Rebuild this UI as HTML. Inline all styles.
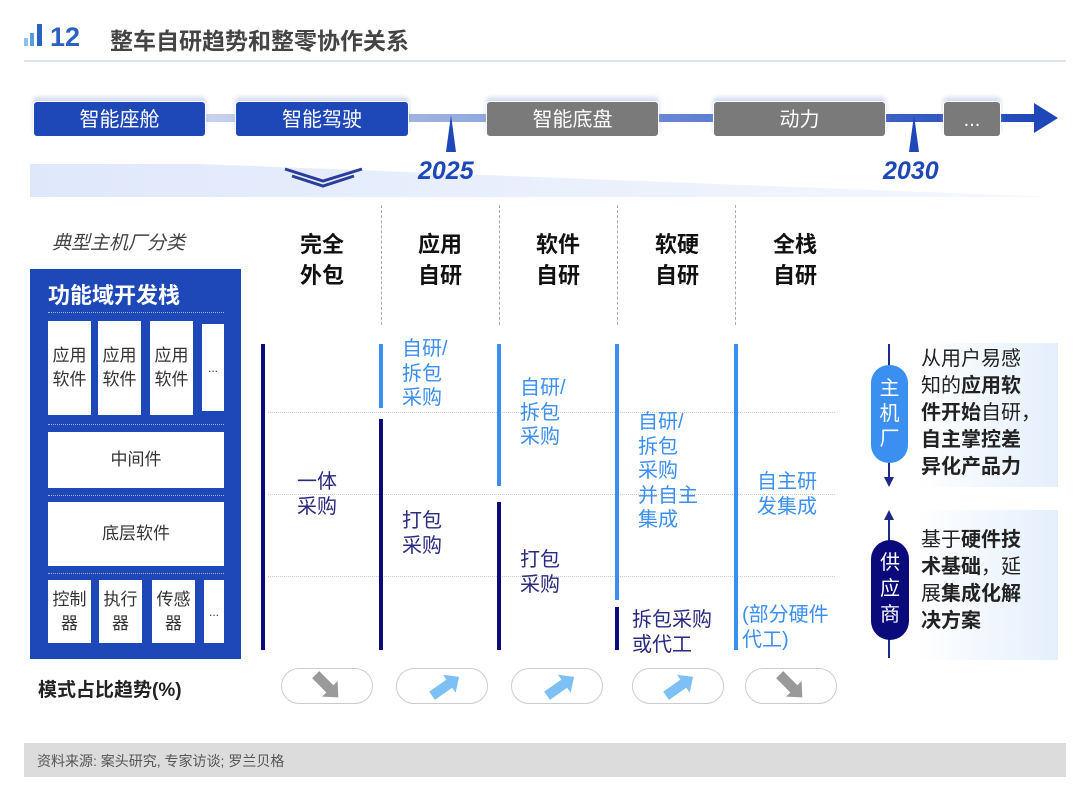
<!DOCTYPE html>
<html><head><meta charset="utf-8">
<style>
*{margin:0;padding:0;box-sizing:border-box}
body{width:1080px;height:791px;background:#fff;position:relative;overflow:hidden;font-family:"Liberation Sans","Noto Sans CJK SC",sans-serif}
.a{position:absolute}
.tb{position:absolute;height:36px;top:101px;border-radius:4px;color:#fff;font-size:20px;text-align:center;line-height:36px;border:1px solid #fff;box-shadow:0 -4px 4px rgba(150,170,220,.4)}
.blue{background:#1e48b8}
.gray{background:#7a7a7a}
.hd{position:absolute;top:229px;width:80px;text-align:center;font-size:22px;font-weight:bold;line-height:31px;color:#111}
.dsep{position:absolute;top:205px;height:120px;border-left:1px dashed #aaa}
.vb{position:absolute;width:4px}
.dk{background:#0a0a7a}
.lb{background:#3b8ff0}
.t{position:absolute;font-size:20px;line-height:24.5px}
.tl{color:#3b8ff0}
.td{color:#2a2a80}
.hl{position:absolute;left:268px;width:567px;border-top:1px dotted #ccc}
.wb{position:absolute;background:#fff;color:#333;font-size:17px;text-align:center;display:flex;align-items:center;justify-content:center;line-height:24px}
.pill{position:absolute;top:668px;width:92px;height:36px;border:1.5px solid #ccc;border-radius:18px;background:#fff}
.rt{position:absolute;left:918px;width:140px;font-size:20px;line-height:27px;color:#222;padding-left:3px;background:linear-gradient(90deg,#fff,#e4effc)}
.rt b{font-weight:bold}
</style></head><body>
<!-- header -->
<div class="a" style="left:24px;top:38px;width:4px;height:8px;background:#8cc0f0"></div>
<div class="a" style="left:30px;top:33px;width:4px;height:13px;background:#5a9be0"></div>
<div class="a" style="left:37px;top:24px;width:5px;height:22px;background:#2a62c0"></div>
<div class="a" style="left:50px;top:22px;font-size:27px;font-weight:bold;color:#2a62c0">12</div>
<div class="a" style="left:110px;top:22px;font-size:23px;font-weight:bold;color:#444">整车自研趋势和整零协作关系</div>
<div class="a" style="left:24px;top:60px;width:1042px;height:2px;background:#dde5f3"></div>

<!-- timeline -->
<div class="a" style="left:200px;top:114px;width:300px;height:8px;background:linear-gradient(90deg,#c8d3ee,#8fa6dc)"></div>
<div class="a" style="left:650px;top:114px;width:390px;height:8px;background:linear-gradient(90deg,#6b88d4,#1e48b8)"></div>
<svg class="a" style="left:0;top:95px" width="1080" height="70">
<polygon points="1034,8 1058,23 1034,38" fill="#1e48b8"/>
<polygon points="446,57 451,20 456,57" fill="#1e48b8"/>
<polygon points="909,57 914,20 919,57" fill="#1e48b8"/>
</svg>
<div class="tb blue" style="left:33px;width:173px">智能座舱</div>
<div class="tb blue" style="left:235px;width:174px">智能驾驶</div>
<div class="tb gray" style="left:486px;width:173px">智能底盘</div>
<div class="tb gray" style="left:713px;width:173px">动力</div>
<div class="tb gray" style="left:943px;width:58px">...</div>
<svg class="a" style="left:0;top:160px" width="1080" height="40">
<defs><linearGradient id="g" x1="0" x2="1"><stop offset="0" stop-color="#dfe8fb"/><stop offset="1" stop-color="#f4f7fd"/></linearGradient></defs>
<polygon points="30,4 200,4 1055,37 30,37" fill="url(#g)"/>
<polyline points="285,9 323,21 362,9" fill="none" stroke="#2a3d9a" stroke-width="3"/>
<polyline points="292,16 323,26 354,16" fill="none" stroke="#2a3d9a" stroke-width="3"/>
</svg>
<div class="a" style="left:418px;top:157px;font-size:25px;font-weight:bold;font-style:italic;color:#1e48b8">2025</div>
<div class="a" style="left:883px;top:157px;font-size:25px;font-weight:bold;font-style:italic;color:#1e48b8">2030</div>

<!-- headers -->
<div class="a" style="left:52px;top:228px;font-size:19px;font-style:italic;color:#444">典型主机厂分类</div>
<div class="hd" style="left:282px">完全<br>外包</div>
<div class="hd" style="left:400px">应用<br>自研</div>
<div class="hd" style="left:518px">软件<br>自研</div>
<div class="hd" style="left:637px">软硬<br>自研</div>
<div class="hd" style="left:755px">全栈<br>自研</div>
<div class="dsep" style="left:381px"></div>
<div class="dsep" style="left:499px"></div>
<div class="dsep" style="left:617px"></div>
<div class="dsep" style="left:735px"></div>

<!-- left panel -->
<div class="a" style="left:30px;top:269px;width:211px;height:390px;background:#1e48b8"></div>
<div class="a" style="left:48px;top:278px;font-size:22px;font-weight:bold;color:#fff">功能域开发栈</div>
<div class="a" style="left:48px;top:312px;width:176px;border-top:1px dotted #9fb3e6"></div>
<div class="a" style="left:48px;top:424px;width:176px;border-top:1px dotted #9fb3e6"></div>
<div class="a" style="left:48px;top:495px;width:176px;border-top:1px dotted #9fb3e6"></div>
<div class="a" style="left:48px;top:573px;width:176px;border-top:1px dotted #9fb3e6"></div>
<div class="wb" style="left:48px;top:321px;width:43px;height:94px">应用<br>软件</div>
<div class="wb" style="left:98px;top:321px;width:43px;height:94px">应用<br>软件</div>
<div class="wb" style="left:150px;top:321px;width:43px;height:94px">应用<br>软件</div>
<div class="wb" style="left:202px;top:324px;width:22px;height:87px;font-size:12px">...</div>
<div class="wb" style="left:48px;top:432px;width:176px;height:56px">中间件</div>
<div class="wb" style="left:48px;top:502px;width:176px;height:64px">底层软件</div>
<div class="wb" style="left:48px;top:580px;width:43px;height:63px">控制<br>器</div>
<div class="wb" style="left:99px;top:580px;width:43px;height:63px">执行<br>器</div>
<div class="wb" style="left:152px;top:580px;width:43px;height:63px">传感<br>器</div>
<div class="wb" style="left:204px;top:580px;width:20px;height:63px;font-size:12px">...</div>

<!-- grid -->
<div class="hl" style="top:412px"></div>
<div class="hl" style="top:494px"></div>
<div class="hl" style="top:576px"></div>
<div class="vb dk" style="left:261px;top:344px;height:306px"></div>
<div class="vb lb" style="left:379px;top:344px;height:64px"></div>
<div class="vb dk" style="left:379px;top:419px;height:231px"></div>
<div class="vb lb" style="left:497px;top:344px;height:142px"></div>
<div class="vb dk" style="left:497px;top:502px;height:148px"></div>
<div class="vb lb" style="left:615px;top:344px;height:256px"></div>
<div class="vb dk" style="left:615px;top:607px;height:43px"></div>
<div class="vb lb" style="left:734px;top:344px;height:306px"></div>

<div class="t td" style="left:297px;top:470px">一体<br>采购</div>
<div class="t tl" style="left:402px;top:337px">自研/<br>拆包<br>采购</div>
<div class="t td" style="left:402px;top:509px">打包<br>采购</div>
<div class="t tl" style="left:520px;top:376px">自研/<br>拆包<br>采购</div>
<div class="t td" style="left:520px;top:548px">打包<br>采购</div>
<div class="t tl" style="left:638px;top:410px">自研/<br>拆包<br>采购<br>并自主<br>集成</div>
<div class="t td" style="left:632px;top:608px">拆包采购<br>或代工</div>
<div class="t tl" style="left:757px;top:470px">自主研<br>发集成</div>
<div class="t tl" style="left:742px;top:603px">(部分硬件<br>代工)</div>

<!-- trend -->
<div class="a" style="left:38px;top:675px;font-size:19px;font-weight:bold;color:#222">模式占比趋势(%)</div>
<div class="pill" style="left:281px"></div>
<div class="pill" style="left:396px"></div>
<div class="pill" style="left:511px"></div>
<div class="pill" style="left:632px"></div>
<div class="pill" style="left:745px"></div>
<svg class="a" style="left:0;top:668px" width="1080" height="40">
<g fill="#9a9a9a"><polygon transform="translate(327,18) rotate(45)" points="-16,-5 4,-5 4,-11 16,0 4,11 4,5 -16,5"/>
<polygon transform="translate(791,18) rotate(45)" points="-16,-5 4,-5 4,-11 16,0 4,11 4,5 -16,5"/></g>
<g fill="#7cc0f5"><polygon transform="translate(446,18) rotate(-35)" points="-17,-5 4,-5 4,-11 16,0 4,11 4,5 -17,5"/>
<polygon transform="translate(561,18) rotate(-35)" points="-17,-5 4,-5 4,-11 16,0 4,11 4,5 -17,5"/>
<polygon transform="translate(680,18) rotate(-35)" points="-17,-5 4,-5 4,-11 16,0 4,11 4,5 -17,5"/></g>
</svg>

<!-- right -->
<div class="rt" style="top:343px;height:144px;padding-top:3px">从用户易感<br>知的<b>应用软</b><br><b>件开始</b>自研，<br><b>自主掌控差</b><br><b>异化产品力</b></div>
<div class="rt" style="top:510px;height:150px;padding-top:17px">基于<b>硬件技</b><br><b>术基础</b>，延<br>展<b>集成化解</b><br><b>决方案</b></div>
<svg class="a" style="left:860px;top:340px" width="60" height="330">
<line x1="29" y1="4" x2="29" y2="140" stroke="#1e2a8a" stroke-width="2"/>
<polygon points="24,137 34,137 29,147" fill="#1e2a8a"/>
<rect x="11" y="25" width="37" height="98" rx="18" fill="#3b8ff0"/>
<line x1="29" y1="175" x2="29" y2="318" stroke="#1e2a8a" stroke-width="2"/>
<polygon points="24,180 34,180 29,170" fill="#1e2a8a"/>
<rect x="11" y="200" width="38" height="100" rx="19" fill="#0a0a7a"/>
<text x="29.5" y="55" fill="#fff" font-size="20" text-anchor="middle" font-family="Noto Sans CJK SC">主</text>
<text x="29.5" y="80" fill="#fff" font-size="20" text-anchor="middle" font-family="Noto Sans CJK SC">机</text>
<text x="29.5" y="105" fill="#fff" font-size="20" text-anchor="middle" font-family="Noto Sans CJK SC">厂</text>
<text x="30" y="229" fill="#fff" font-size="20" text-anchor="middle" font-family="Noto Sans CJK SC">供</text>
<text x="30" y="255" fill="#fff" font-size="20" text-anchor="middle" font-family="Noto Sans CJK SC">应</text>
<text x="30" y="281" fill="#fff" font-size="20" text-anchor="middle" font-family="Noto Sans CJK SC">商</text>
</svg>

<!-- footer -->
<div class="a" style="left:24px;top:743px;width:1042px;height:34px;background:#dcdcdc"></div>
<div class="a" style="left:37px;top:751px;font-size:14px;color:#555">资料来源: 案头研究, 专家访谈; 罗兰贝格</div>
</body></html>
